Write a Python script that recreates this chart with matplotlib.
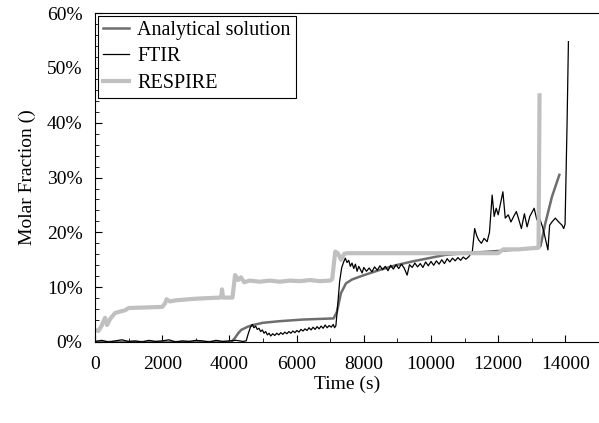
import numpy as np
import matplotlib.pyplot as plt
from matplotlib.ticker import MultipleLocator, FuncFormatter

plt.rcParams['font.family'] = ['Liberation Serif', 'DejaVu Serif']

# Analytical solution (time s, molar fraction %)
ana_t = [0, 4050, 4150, 4250, 4350, 4550, 4700, 5000, 5500, 6200, 7100, 7200,
         7320, 7470, 7650, 7960, 8450, 8950, 9450, 9940, 10430, 11000, 12000,
         13200, 13260, 13400, 13600, 13820]
ana_y = [0, 0, 0.6, 1.5, 2.2, 2.8, 3.1, 3.5, 3.8, 4.1, 4.3, 5.5,
         8.9, 10.7, 11.4, 12.1, 13.1, 14.0, 14.7, 15.3, 15.9, 16.2, 16.6,
         17.2, 17.5, 21.6, 26.5, 30.5]

# FTIR measurement
ftir_t = [0, 200, 400, 600, 800, 1000, 1200, 1400, 1600, 1800, 2000, 2200,
          2400, 2600, 2800, 3000, 3200, 3400, 3600, 3800, 4000, 4200, 4400,
          4500, 4560, 4620, 4680, 4730, 4780, 4830, 4880, 4930, 4980, 5030,
          5080, 5130, 5180, 5230, 5290, 5350, 5410, 5470, 5530, 5590, 5650,
          5710, 5770, 5830, 5890, 5950, 6010, 6070, 6130, 6190, 6250, 6310,
          6370, 6430, 6490, 6550, 6610, 6670, 6730, 6790, 6850, 6910, 6970,
          7030, 7090, 7130, 7170, 7220, 7280, 7340, 7400, 7450, 7500, 7550,
          7600, 7650, 7700, 7750, 7800, 7850, 7900, 7950, 8000, 8080, 8160,
          8240, 8320, 8400, 8480, 8560, 8640, 8720, 8800, 8880, 8960, 9040,
          9120, 9200, 9290, 9360, 9440, 9520, 9600, 9680, 9760, 9840, 9920,
          10000, 10080, 10160, 10240, 10320, 10400, 10480, 10560, 10640, 10720,
          10800, 10880, 10960, 11040, 11130, 11230, 11300, 11360, 11420, 11500,
          11580, 11670, 11740, 11820, 11880, 11940, 12000, 12060, 12140, 12210,
          12300, 12380, 12460, 12540, 12610, 12690, 12780, 12860, 12940, 13070,
          13150, 13230, 13320, 13380, 13480, 13530, 13600, 13700, 13800, 13900,
          13950, 13990, 14050, 14090]
ftir_y = [0.1, 0.3, 0.0, 0.2, 0.4, 0.1, 0.2, 0.0, 0.3, 0.1, 0.2, 0.4,
          0.0, 0.2, 0.1, 0.3, 0.2, 0.0, 0.3, 0.1, 0.2, 0.3, 0.1,
          0.2, 1.5, 2.6, 3.2, 2.6, 2.9, 2.3, 2.5, 1.9, 2.2, 1.6,
          1.9, 1.3, 1.6, 1.1, 1.5, 1.2, 1.6, 1.3, 1.7, 1.4, 1.8,
          1.5, 1.9, 1.6, 2.0, 1.7, 2.1, 1.8, 2.3, 2.0, 2.4, 2.1,
          2.6, 2.2, 2.7, 2.3, 2.8, 2.4, 2.9, 2.5, 3.1, 2.6, 3.0,
          2.7, 3.2, 2.6, 3.0, 6.5, 11.0, 13.5, 14.6, 15.3, 14.5, 14.9,
          13.8, 14.4, 13.4, 14.2, 12.9, 13.8, 13.2, 12.6, 13.6, 12.9, 13.5,
          12.8, 13.7, 13.1, 13.9, 13.2, 13.8, 13.0, 14.0, 13.3, 14.1, 13.4,
          14.2, 13.5, 12.2, 14.1, 13.6, 14.4, 13.7, 14.3, 13.6, 14.6, 13.9,
          14.7, 14.0, 14.8, 14.2, 15.0, 14.3, 15.2, 14.6, 15.3, 14.8,
          15.4, 14.9, 15.5, 15.1, 15.6, 16.5, 20.7, 19.4, 18.6, 18.0,
          18.9, 18.3, 20.0, 26.8, 22.9, 24.4, 23.2, 25.0, 27.4, 22.6,
          23.2, 21.9, 22.9, 23.8, 22.4, 20.7, 23.4, 21.0, 22.9, 24.4,
          22.3, 22.6, 21.0, 19.5, 16.8, 21.3, 21.9, 22.6, 21.9, 21.3,
          20.7, 21.5, 40.0, 54.8]

# RESPIRE measurement
resp_t = [0, 100, 200, 300, 360, 450, 600, 900, 1000, 1500, 2000, 2080,
          2130, 2230, 2400, 3000, 3700, 3760, 3780, 3810, 4090, 4170, 4260,
          4340, 4440, 4600, 4900, 5200, 5500, 5800, 6100, 6400, 6700, 7000,
          7060, 7150, 7230, 7320, 7420, 7510, 9000, 10500, 12000, 12150,
          12600, 13200, 13230]
resp_y = [2.2, 2.0, 3.0, 4.4, 3.1, 4.2, 5.3, 5.8, 6.2, 6.3, 6.4, 7.0,
          7.8, 7.4, 7.6, 7.9, 8.1, 8.2, 9.6, 8.1, 8.1, 12.2, 11.3,
          11.8, 10.9, 11.2, 11.0, 11.2, 11.0, 11.2, 11.1, 11.3, 11.1, 11.2,
          11.5, 16.5, 16.2, 15.0, 16.1, 16.2, 16.2, 16.2, 16.2, 16.9,
          16.9, 17.2, 45.0]

fig = plt.figure(figsize=(5.99, 4.23), dpi=100)
ax = fig.add_axes([0.1586, 0.1915, 0.8414, 0.7775])

ax.plot(ana_t, ana_y, color='#6e6e6e', lw=1.8, label='Analytical solution')
ax.plot(ftir_t, ftir_y, color='black', lw=0.9, label='FTIR')
ax.plot(resp_t, resp_y, color='#c0c0c0', lw=3, label='RESPIRE')

ax.set_xlim(0, 15000)
ax.set_ylim(0, 60)
ax.xaxis.set_major_locator(MultipleLocator(2000))
ax.xaxis.set_minor_locator(MultipleLocator(1000))
ax.yaxis.set_major_locator(MultipleLocator(10))
ax.yaxis.set_minor_locator(MultipleLocator(2))
ax.yaxis.set_major_formatter(FuncFormatter(lambda v, p: f"{int(v)}%"))
ax.tick_params(which='both', direction='in', labelsize=14)
ax.tick_params(which='major', length=5)
ax.tick_params(which='minor', length=3)
ax.tick_params(axis='x', pad=10)
ax.tick_params(axis='y', pad=9)
ax.spines['right'].set_visible(False)

ax.set_xlabel('Time (s)', fontsize=14, labelpad=2)
ax.set_ylabel('Molar Fraction ()', fontsize=14, labelpad=8)

leg = ax.legend(loc='upper left', fontsize=14.5, fancybox=False, edgecolor='black',
                framealpha=1, borderaxespad=0.15, handlelength=1.3,
                handletextpad=0.4, labelspacing=0.35, borderpad=0.25)
leg.get_frame().set_linewidth(0.8)

plt.savefig('out.png', dpi=100)
